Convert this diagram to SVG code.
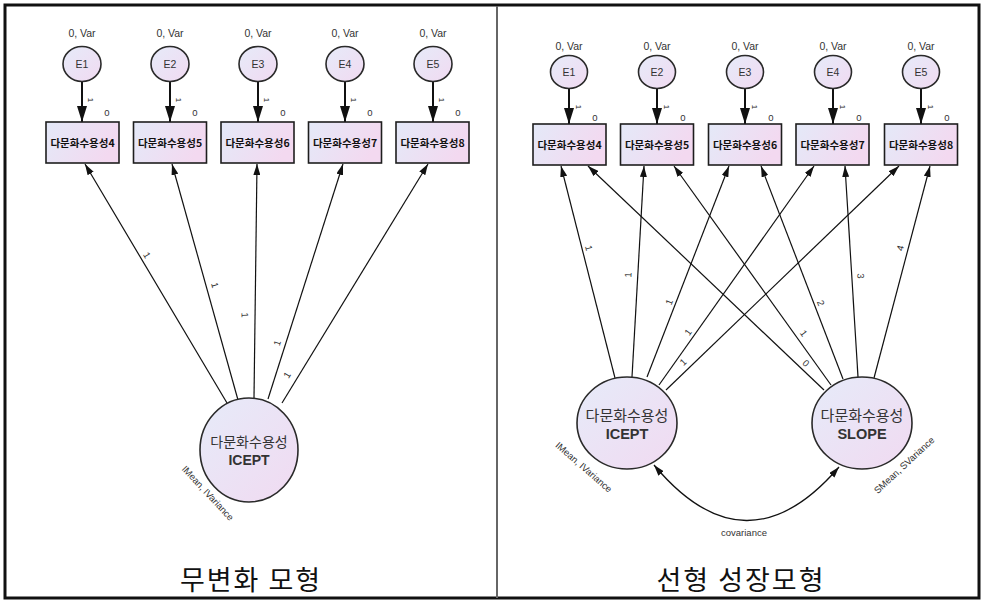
<svg xmlns="http://www.w3.org/2000/svg" width="982" height="601" viewBox="0 0 982 601">
<defs>
<linearGradient id="gbox" x1="0" y1="0" x2="1" y2="0.3"><stop offset="0" stop-color="#e4e9f8"/><stop offset="1" stop-color="#f3d9f0"/></linearGradient>
<linearGradient id="glat" x1="0" y1="0" x2="1" y2="1"><stop offset="0" stop-color="#e6ebf9"/><stop offset="1" stop-color="#f1daf1"/></linearGradient>
<marker id="ah" viewBox="0 0 11 7" refX="11" refY="3.5" markerWidth="11" markerHeight="7" markerUnits="userSpaceOnUse" orient="auto-start-reverse"><path d="M0,0 L11,3.5 L0,7 z" fill="#111"/></marker>
<marker id="ahb" viewBox="0 0 16 10" refX="16" refY="5" markerWidth="16" markerHeight="10" markerUnits="userSpaceOnUse" orient="auto"><path d="M0,0 L16,5 L0,10 z" fill="#111"/></marker>
<style>
.box{fill:url(#gbox);stroke:#1e1e1e;stroke-width:1.6}
.lat{fill:url(#glat);stroke:#2a2a2a;stroke-width:1.6}
.bt{font-family:"Noto Sans CJK KR","Liberation Sans",sans-serif;font-weight:bold;font-size:10.5px;fill:#111;text-anchor:middle}
.lt{font-family:"Noto Sans CJK KR","Liberation Sans",sans-serif;fill:#333;text-anchor:middle}
.lt2{font-family:"Liberation Sans",Arial,sans-serif;font-weight:bold;fill:#333;text-anchor:middle}
.et{font-family:"Liberation Sans",Arial,sans-serif;font-size:10.5px;fill:#333;text-anchor:middle}
.sm{font-family:"Liberation Sans",Arial,sans-serif;font-size:9.5px;fill:#333;text-anchor:middle;dominant-baseline:central}
.tiny{font-family:"Liberation Sans",Arial,sans-serif;font-size:8px;fill:#222;text-anchor:middle;dominant-baseline:central}
.pl{stroke:#111;stroke-width:1.2;fill:none;marker-end:url(#ah)}
.ep{stroke:#111;stroke-width:2;fill:none;marker-end:url(#ahb)}
.title{font-family:"Noto Sans CJK KR",sans-serif;font-size:27px;letter-spacing:2px;fill:#111;text-anchor:middle}
</style>
</defs>
<rect x="0" y="0" width="982" height="601" fill="#ffffff"/>
<rect x="5" y="5" width="974" height="593" fill="none" stroke="#111" stroke-width="3"/>
<line x1="497" y1="6" x2="497" y2="598" stroke="#666" stroke-width="2"/>

<!-- LEFT PANEL: connectors -->
<g id="left-connectors">
<line class="ep" x1="82" y1="81" x2="82" y2="122"/>
<line class="ep" x1="170" y1="81" x2="170" y2="122"/>
<line class="ep" x1="258" y1="81" x2="258" y2="122"/>
<line class="ep" x1="345" y1="81" x2="345" y2="122"/>
<line class="ep" x1="433" y1="81" x2="433" y2="122"/>
<line class="pl" x1="227" y1="403" x2="85" y2="164"/>
<line class="pl" x1="238" y1="400" x2="172" y2="164"/>
<line class="pl" x1="254" y1="398" x2="257" y2="164"/>
<line class="pl" x1="268" y1="399" x2="343" y2="164"/>
<line class="pl" x1="282" y1="403" x2="428" y2="164"/>
<text class="sm" transform="translate(147,255) rotate(59.3)">1</text>
<text class="sm" transform="translate(215,285) rotate(74.4)">1</text>
<text class="sm" transform="translate(245,315) rotate(89)">1</text>
<text class="sm" transform="translate(277,343) rotate(-72.3)">1</text>
<text class="sm" transform="translate(287,375) rotate(-58.6)">1</text>
<text class="tiny" transform="translate(90,100) rotate(90)">1</text>
<text class="tiny" transform="translate(178,100) rotate(90)">1</text>
<text class="tiny" transform="translate(266,100) rotate(90)">1</text>
<text class="tiny" transform="translate(353,100) rotate(90)">1</text>
<text class="tiny" transform="translate(441,100) rotate(90)">1</text>
<text class="sm" x="107" y="112">0</text>
<text class="sm" x="195" y="112">0</text>
<text class="sm" x="283" y="112">0</text>
<text class="sm" x="370" y="112">0</text>
<text class="sm" x="458" y="112">0</text>
</g>

<!-- LEFT PANEL: nodes -->
<g id="left-E1"><text class="et" x="82" y="37">0, Var</text><ellipse class="lat" cx="82" cy="64" rx="19" ry="17.5"/><text class="et" x="82" y="68">E1</text></g>
<g id="left-E2"><text class="et" x="170" y="37">0, Var</text><ellipse class="lat" cx="170" cy="64" rx="19" ry="17.5"/><text class="et" x="170" y="68">E2</text></g>
<g id="left-E3"><text class="et" x="258" y="37">0, Var</text><ellipse class="lat" cx="258" cy="64" rx="19" ry="17.5"/><text class="et" x="258" y="68">E3</text></g>
<g id="left-E4"><text class="et" x="345" y="37">0, Var</text><ellipse class="lat" cx="345" cy="64" rx="19" ry="17.5"/><text class="et" x="345" y="68">E4</text></g>
<g id="left-E5"><text class="et" x="433" y="37">0, Var</text><ellipse class="lat" cx="433" cy="64" rx="19" ry="17.5"/><text class="et" x="433" y="68">E5</text></g>
<g id="left-box4"><rect class="box" x="46" y="122" width="73" height="41"/><text class="bt" x="82.5" y="147">다문화수용성4</text></g>
<g id="left-box5"><rect class="box" x="133.5" y="122" width="73" height="41"/><text class="bt" x="170" y="147">다문화수용성5</text></g>
<g id="left-box6"><rect class="box" x="221" y="122" width="73" height="41"/><text class="bt" x="257.5" y="147">다문화수용성6</text></g>
<g id="left-box7"><rect class="box" x="308.5" y="122" width="73" height="41"/><text class="bt" x="345" y="147">다문화수용성7</text></g>
<g id="left-box8"><rect class="box" x="396" y="122" width="73" height="41"/><text class="bt" x="432.5" y="147">다문화수용성8</text></g>
<g id="left-icept">
<ellipse class="lat" cx="249" cy="450" rx="49" ry="52"/>
<text class="lt" x="249" y="447" font-size="14">다문화수용성</text>
<text class="lt2" x="249" y="465" font-size="14">ICEPT</text>
<text class="sm" transform="translate(208,493) rotate(47)">IMean, IVariance</text>
</g>
<text class="title" x="251" y="590">무변화 모형</text>

<!-- RIGHT PANEL: connectors -->
<g id="right-connectors">
<line class="ep" x1="569" y1="88" x2="569" y2="124"/>
<line class="ep" x1="657" y1="88" x2="657" y2="124"/>
<line class="ep" x1="745" y1="88" x2="745" y2="124"/>
<line class="ep" x1="833" y1="88" x2="833" y2="124"/>
<line class="ep" x1="921" y1="88" x2="921" y2="124"/>
<line class="pl" x1="615" y1="378" x2="561" y2="166"/>
<line class="pl" x1="632" y1="377" x2="644" y2="166"/>
<line class="pl" x1="647" y1="377" x2="729" y2="166"/>
<line class="pl" x1="659" y1="385" x2="814" y2="166"/>
<line class="pl" x1="666" y1="390" x2="899" y2="166"/>
<line class="pl" x1="824" y1="390" x2="588" y2="166"/>
<line class="pl" x1="831" y1="385" x2="674" y2="166"/>
<line class="pl" x1="843" y1="379" x2="761" y2="166"/>
<line class="pl" x1="858" y1="377" x2="845" y2="166"/>
<line class="pl" x1="874" y1="378" x2="930" y2="166"/>
<path d="M654,465 Q746,575 839,467" stroke="#111" stroke-width="1.3" fill="none" marker-start="url(#ah)" marker-end="url(#ah)"/>
<text class="sm" x="744" y="532">covariance</text>
<text class="sm" transform="translate(589,248) rotate(75.7)">1</text>
<text class="sm" transform="translate(628,275) rotate(-86.7)">1</text>
<text class="sm" transform="translate(669,302) rotate(-68.8)">1</text>
<text class="sm" transform="translate(688,332) rotate(-54.7)">1</text>
<text class="sm" transform="translate(683,362) rotate(-43.9)">1</text>
<text class="sm" transform="translate(806,363) rotate(43.5)">0</text>
<text class="sm" transform="translate(804,333) rotate(54.4)">1</text>
<text class="sm" transform="translate(821,303) rotate(68.9)">2</text>
<text class="sm" transform="translate(861,276) rotate(86.5)">3</text>
<text class="sm" transform="translate(900,248) rotate(-75.2)">4</text>
<text class="tiny" transform="translate(578,107) rotate(90)">1</text>
<text class="tiny" transform="translate(666,107) rotate(90)">1</text>
<text class="tiny" transform="translate(754,107) rotate(90)">1</text>
<text class="tiny" transform="translate(842,107) rotate(90)">1</text>
<text class="tiny" transform="translate(930,107) rotate(90)">1</text>
<text class="sm" x="595" y="117">0</text>
<text class="sm" x="683" y="117">0</text>
<text class="sm" x="771" y="117">0</text>
<text class="sm" x="859" y="117">0</text>
<text class="sm" x="947" y="117">0</text>
</g>

<!-- RIGHT PANEL: nodes -->
<g id="right-E1"><text class="et" x="569" y="50">0, Var</text><ellipse class="lat" cx="569" cy="72" rx="18.5" ry="16.5"/><text class="et" x="569" y="76">E1</text></g>
<g id="right-E2"><text class="et" x="657" y="50">0, Var</text><ellipse class="lat" cx="657" cy="72" rx="18.5" ry="16.5"/><text class="et" x="657" y="76">E2</text></g>
<g id="right-E3"><text class="et" x="745" y="50">0, Var</text><ellipse class="lat" cx="745" cy="72" rx="18.5" ry="16.5"/><text class="et" x="745" y="76">E3</text></g>
<g id="right-E4"><text class="et" x="833" y="50">0, Var</text><ellipse class="lat" cx="833" cy="72" rx="18.5" ry="16.5"/><text class="et" x="833" y="76">E4</text></g>
<g id="right-E5"><text class="et" x="921" y="50">0, Var</text><ellipse class="lat" cx="921" cy="72" rx="18.5" ry="16.5"/><text class="et" x="921" y="76">E5</text></g>
<g id="right-box4"><rect class="box" x="533" y="124" width="73" height="41"/><text class="bt" x="569.5" y="149">다문화수용성4</text></g>
<g id="right-box5"><rect class="box" x="620.5" y="124" width="73" height="41"/><text class="bt" x="657" y="149">다문화수용성5</text></g>
<g id="right-box6"><rect class="box" x="708.5" y="124" width="73" height="41"/><text class="bt" x="745" y="149">다문화수용성6</text></g>
<g id="right-box7"><rect class="box" x="796" y="124" width="73" height="41"/><text class="bt" x="832.5" y="149">다문화수용성7</text></g>
<g id="right-box8"><rect class="box" x="884.5" y="124" width="73" height="41"/><text class="bt" x="921" y="149">다문화수용성8</text></g>
<g id="right-icept">
<ellipse class="lat" cx="627" cy="423" rx="50" ry="46"/>
<text class="lt" x="627" y="421" font-size="15">다문화수용성</text>
<text class="lt2" x="627" y="439" font-size="14.5">ICEPT</text>
<text class="sm" transform="translate(584,467) rotate(41)">IMean, IVariance</text>
</g>
<g id="right-slope">
<ellipse class="lat" cx="862" cy="423" rx="50" ry="46"/>
<text class="lt" x="862" y="421" font-size="15">다문화수용성</text>
<text class="lt2" x="862" y="439" font-size="14.5">SLOPE</text>
<text class="sm" transform="translate(904,465) rotate(-43)">SMean, SVariance</text>
</g>
<text class="title" x="741" y="590">선형 성장모형</text>
</svg>
